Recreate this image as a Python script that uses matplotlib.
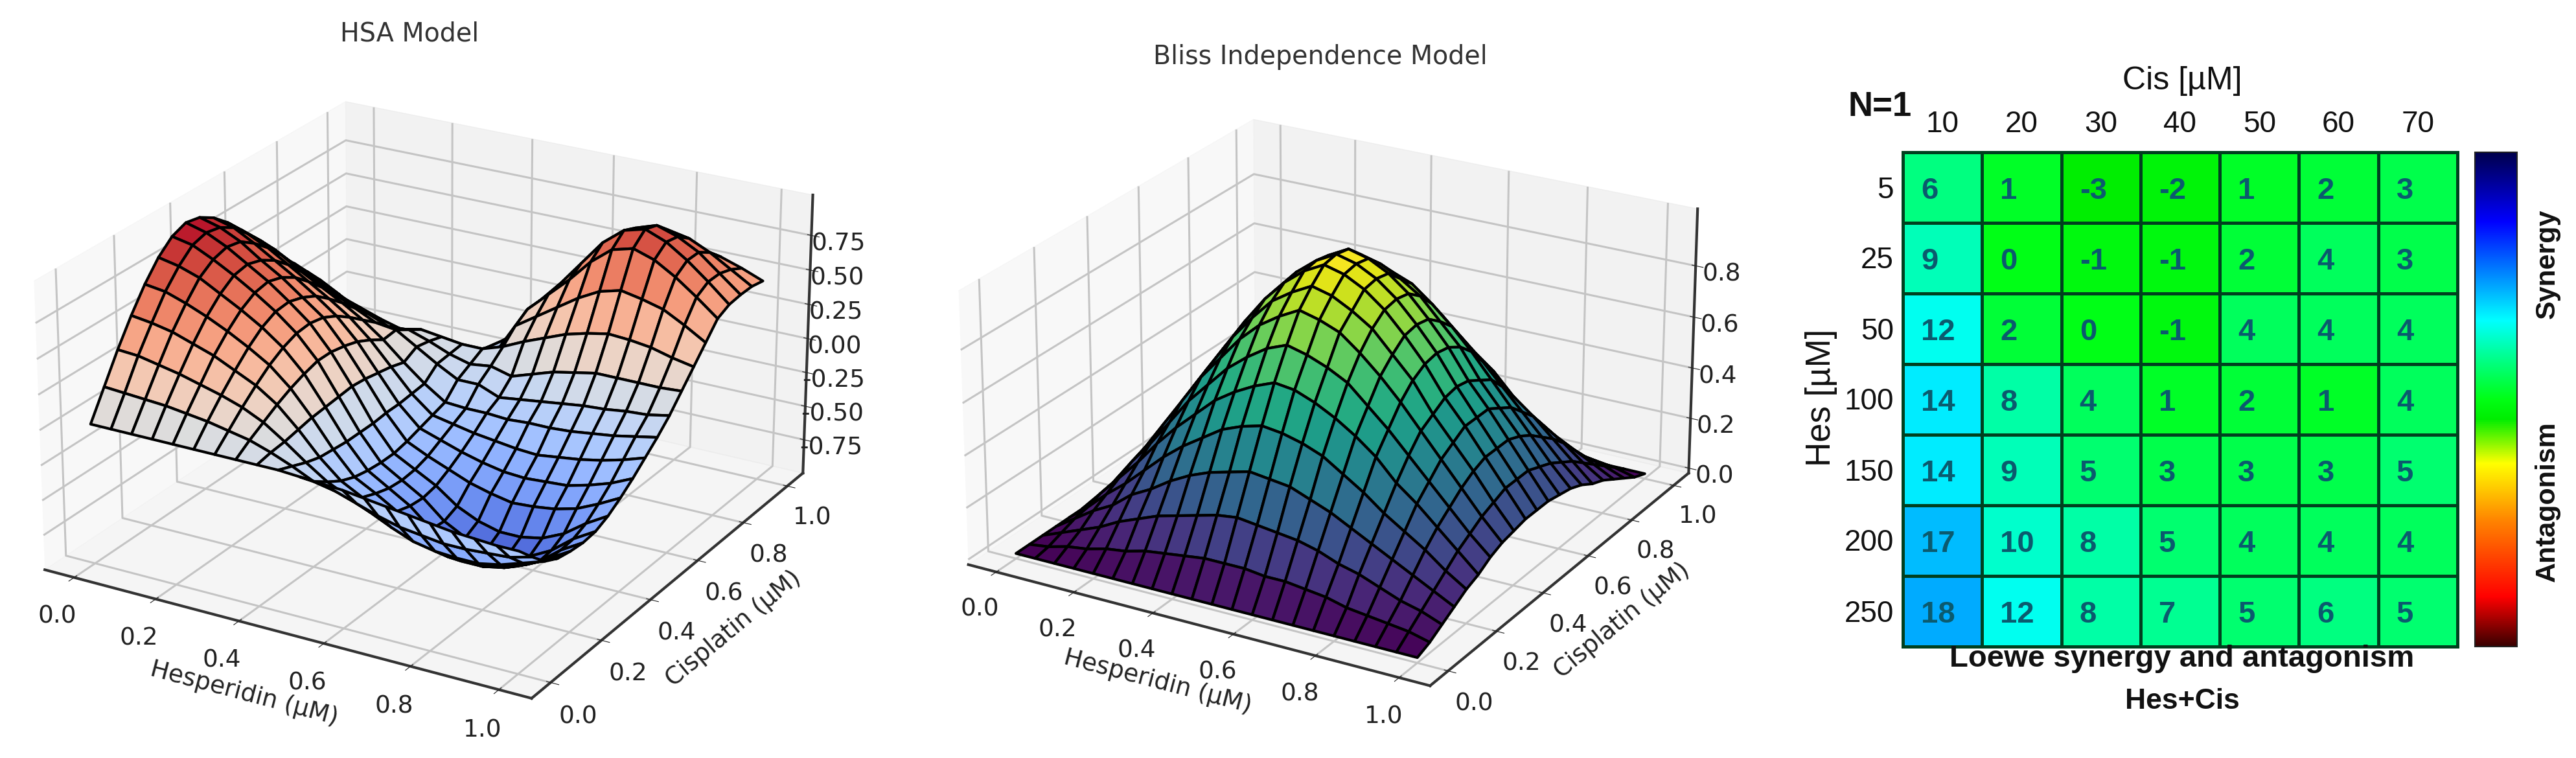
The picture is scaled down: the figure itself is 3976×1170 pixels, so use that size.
import matplotlib
matplotlib.use("Agg")
import matplotlib.pyplot as plt
import numpy as np
from matplotlib.colors import LinearSegmentedColormap

W, H = 3976, 1170
grid_axis = [0,.05,.10,.15,.20,.25,.30,.35,.40,.45,.50,.55,.60,.65,.70,.75,.80,.85,.90,.95,1.0]

hsa_z = [
[0,0,0,0,0,0,0,0,0,0,-.01,-.02,-.03,-.05,-.07,-.09,-.11,-.13,-.14,-.15,-.15],
[.20,.19,.18,.17,.15,.13,.10,.07,.02,-.04,-.11,-.14,-.19,-.24,-.28,-.30,-.32,-.32,-.31,-.30,-.26],
[.40,.39,.36,.33,.29,.25,.20,.13,.03,-.08,-.18,-.25,-.32,-.39,-.45,-.48,-.49,-.49,-.46,-.41,-.36],
[.58,.56,.53,.48,.43,.36,.29,.19,.05,-.11,-.24,-.32,-.40,-.47,-.54,-.59,-.59,-.58,-.54,-.47,-.41],
[.74,.72,.67,.61,.54,.46,.37,.24,.07,-.12,-.28,-.36,-.45,-.55,-.62,-.69,-.69,-.66,-.60,-.52,-.43],
[.87,.84,.79,.71,.63,.54,.43,.28,.08,-.13,-.30,-.39,-.48,-.61,-.70,-.76,-.76,-.72,-.65,-.53,-.44],
[.96,.93,.86,.78,.69,.59,.47,.31,.09,-.13,-.31,-.40,-.49,-.62,-.70,-.75,-.75,-.72,-.64,-.52,-.43],
[1.00,.96,.89,.80,.71,.60,.48,.31,.10,-.13,-.31,-.39,-.47,-.58,-.65,-.69,-.69,-.66,-.59,-.48,-.39],
[.98,.94,.87,.77,.68,.57,.46,.29,.09,-.12,-.29,-.36,-.42,-.48,-.52,-.55,-.54,-.52,-.48,-.41,-.33],
[.92,.88,.80,.71,.62,.52,.41,.26,.07,-.12,-.26,-.31,-.36,-.40,-.43,-.44,-.43,-.42,-.38,-.33,-.26],
[.83,.78,.71,.62,.53,.44,.34,.21,.05,-.11,-.23,-.26,-.29,-.31,-.33,-.34,-.32,-.30,-.27,-.23,-.18],
[.72,.67,.60,.51,.43,.35,.26,.15,.02,-.10,-.20,-.21,-.21,-.22,-.21,-.21,-.20,-.18,-.16,-.13,-.10],
[.60,.55,.47,.40,.32,.25,.18,.16,.07,-.02,-.10,-.10,-.16,-.14,-.12,-.10,-.08,-.07,-.05,-.04,-.01],
[.47,.41,.34,.27,.21,.15,.09,.10,.05,-.01,-.05,-.03,-.07,-.02,.03,.06,.09,.09,.09,.09,.10],
[.35,.29,.22,.15,.10,.05,.01,.04,.02,0,0,.05,.12,.18,.24,.28,.31,.30,.28,.24,.21],
[.24,.17,.10,.03,-.03,-.08,-.12,-.14,-.15,-.14,-.10,.14,.24,.34,.44,.52,.56,.53,.49,.41,.32],
[.12,.05,-.04,-.12,-.20,-.25,-.29,-.28,-.22,-.15,-.05,.20,.34,.48,.64,.76,.80,.75,.66,.55,.43],
[0,-.08,-.17,-.25,-.32,-.37,-.38,-.35,-.28,-.18,-.05,.20,.36,.54,.72,.84,.88,.82,.72,.60,.47],
[-.15,-.24,-.33,-.40,-.46,-.50,-.49,-.44,-.36,-.24,-.10,.14,.32,.50,.68,.80,.85,.80,.72,.60,.48],
[-.32,-.42,-.50,-.56,-.61,-.62,-.60,-.52,-.44,-.31,-.15,.08,.25,.42,.60,.72,.76,.73,.66,.57,.48],
[-.48,-.58,-.66,-.70,-.72,-.72,-.66,-.58,-.50,-.38,-.22,-.04,.12,.28,.43,.54,.60,.60,.57,.52,.46],
]

bliss_z = [
[0]*21,
[0,.01,.03,.04,.06,.07,.09,.10,.11,.12,.12,.12,.11,.11,.10,.09,.07,.06,.05,.04,.02],
[0,.03,.06,.09,.13,.16,.19,.21,.23,.25,.26,.25,.24,.23,.21,.18,.16,.13,.10,.08,.05],
[0,.05,.10,.14,.20,.24,.29,.33,.36,.38,.40,.39,.38,.35,.32,.28,.24,.20,.16,.12,.08],
[0,.06,.13,.19,.26,.33,.39,.44,.49,.52,.54,.53,.51,.48,.43,.38,.32,.27,.22,.16,.11],
[0,.08,.16,.24,.33,.41,.48,.55,.60,.64,.67,.66,.63,.59,.54,.48,.40,.34,.27,.20,.13],
[0,.09,.19,.28,.38,.48,.56,.64,.70,.75,.78,.76,.73,.69,.62,.55,.47,.39,.31,.23,.16],
[0,.11,.21,.32,.43,.54,.63,.72,.79,.84,.88,.86,.83,.77,.70,.62,.53,.44,.35,.26,.18],
[0,.11,.23,.34,.46,.57,.68,.77,.85,.90,.94,.92,.88,.83,.75,.67,.56,.47,.38,.28,.19],
[0,.12,.24,.36,.49,.60,.71,.81,.89,.95,.99,.97,.93,.87,.79,.70,.59,.50,.40,.30,.20],
[0,.12,.24,.36,.49,.61,.72,.82,.90,.96,1.0,.98,.94,.88,.80,.71,.60,.50,.40,.30,.20],
[0,.12,.24,.36,.49,.60,.71,.81,.89,.95,.99,.97,.93,.87,.79,.70,.59,.50,.40,.30,.20],
[0,.11,.23,.34,.46,.57,.68,.77,.85,.90,.94,.92,.88,.83,.75,.67,.56,.47,.38,.28,.19],
[0,.11,.21,.32,.43,.54,.63,.72,.79,.84,.88,.86,.83,.77,.70,.62,.53,.44,.35,.26,.18],
[0,.09,.19,.28,.38,.48,.56,.64,.70,.75,.78,.76,.73,.69,.62,.55,.47,.39,.31,.23,.16],
[0,.08,.16,.24,.33,.41,.48,.55,.60,.64,.67,.66,.63,.59,.54,.48,.40,.34,.27,.20,.13],
[0,.06,.13,.19,.26,.33,.39,.44,.49,.52,.54,.53,.51,.48,.43,.38,.32,.27,.22,.16,.11],
[0,.05,.10,.14,.20,.24,.29,.33,.36,.38,.40,.39,.38,.35,.32,.28,.24,.20,.16,.12,.08],
[0,.03,.06,.09,.13,.16,.19,.21,.23,.25,.26,.25,.24,.23,.21,.18,.16,.13,.10,.08,.05],
[0,.01,.03,.04,.06,.07,.09,.10,.11,.12,.12,.12,.11,.11,.10,.09,.07,.06,.05,.04,.02],
[0]*21,
]

tick_vals = [0.0,0.2,0.4,0.6,0.8,1.0]
hsa_zticks = [-.75,-.50,-.25,0,.25,.50,.75]
bliss_zticks = [0,.2,.4,.6,.8]

cis_labels = ["10","20","30","40","50","60","70"]
hes_labels = ["5","25","50","100","150","200","250"]
loewe = [
[6,1,-3,-2,1,2,3],
[9,0,-1,-1,2,4,3],
[12,2,0,-1,4,4,4],
[14,8,4,1,2,1,4],
[14,9,5,3,3,3,5],
[17,10,8,5,4,4,4],
[18,12,8,7,5,6,5],
]

def fx(px): return px / W
def fy(py): return 1 - py / H

fig = plt.figure(figsize=(W/100, H/100), dpi=100, facecolor="white")

def txt(px, py, s, **kw):
    fig.text(fx(px), fy(py), s, ha=kw.pop("ha", "center"), va=kw.pop("va", "center"), **kw)

def surf(cx, cy, S, Z, cmap, vr, zl, zticks, zfmt, aspect, zoom, title, tx, ty):
    ax = fig.add_axes([fx(cx - S/2), fy(cy + S/2), S/W, S/H], projection="3d")
    ax.patch.set_alpha(0)
    X, Y = np.meshgrid(grid_axis, grid_axis)
    ax.plot_surface(X, Y, np.array(Z, float), cmap=cmap, vmin=vr[0], vmax=vr[1], edgecolor="black",
                    linewidth=3.0, rstride=1, cstride=1, antialiased=True)
    ax.view_init(elev=23.5, azim=-60)
    ax.set_box_aspect(aspect, zoom=zoom)
    ax.set_zlim(*zl)
    ax.set_xticks(tick_vals); ax.set_yticks(tick_vals); ax.set_zticks(zticks)
    ax.set_xticklabels([f"{v:.1f}" for v in tick_vals])
    ax.set_yticklabels([f"{v:.1f}" for v in tick_vals])
    ax.set_zticklabels([zfmt.format(v) for v in zticks])
    ax.tick_params(labelsize=27, colors="#222222", pad=18, width=3, length=8)
    ax.tick_params(axis="z", pad=10)
    ax.set_xlabel("Hesperidin (µM)", fontsize=27, labelpad=36, color="#222222")
    ax.set_ylabel("Cisplatin (µM)", fontsize=27, labelpad=38, color="#222222")
    for a in (ax.xaxis, ax.yaxis, ax.zaxis):
        a.line.set_linewidth(3); a.line.set_color("#333333")
        a._axinfo["grid"]["linewidth"] = 2.2
        a._axinfo["grid"]["color"] = "#c4c4c4"
    txt(tx, ty, title, fontsize=28.5, color="#333333")
    return ax

surf(650, 605, 1300, hsa_z, "coolwarm", (-.85, 1), (-1.0, 1.04), hsa_zticks, "{:.2f}", (3.92, 4.15, 2.2), 0.99,
     "HSA Model", 632, 52)
surf(2045, 612, 1300, bliss_z, "viridis", (0, 1), (-.02, 1.02), bliss_zticks, "{:.1f}", (3.92, 4.15, 2.2), 0.94,
     "Bliss Independence Model", 2038, 88)

# heat map
L, R, T, B = 2937, 3793, 235, 998
rainbow = LinearSegmentedColormap.from_list("loewe", [
    (0.00, (0.22, 0, 0)), (0.10, (1, 0, 0)), (0.25, (1, 0.5, 0)), (0.37, (1, 1, 0)),
    (0.46, (0, 0.93, 0)), (0.50, (0, 1, 0.08)), (0.575, (0, 1, 0.5)), (0.66, (0, 1, 1)),
    (0.86, (0, 0, 1)), (1.00, (0, 0, 0.3))], N=512)
ax = fig.add_axes([fx(L), fy(B), (R-L)/W, (B-T)/H])
mesh = ax.pcolormesh(np.arange(8), np.arange(8), np.array(loewe), cmap=rainbow, vmin=-40, vmax=40,
                     edgecolors="#00401f", linewidth=3.6)
ax.set_xlim(0, 7); ax.set_ylim(7, 0)
ax.set_xticks([]); ax.set_yticks([])
for s in ax.spines.values():
    s.set_color("#00401f"); s.set_linewidth(3.6)
FONT = "Liberation Sans"
for r, row in enumerate(loewe):
    for c, v in enumerate(row):
        ax.text(c + 0.23, r + 0.55, str(v), ha="left", va="center", fontsize=34, family=FONT,
                color="#0b5a6e", fontweight="bold")
cw = (R-L)/7; ch = (B-T)/7
for i, s in enumerate(cis_labels):
    txt(L + cw*(i+0.5), 192, s, fontsize=33, family=FONT, color="#111111")
for i, s in enumerate(hes_labels):
    txt(2923, T + ch*(i+0.5) + 4, s, ha="right", fontsize=33, family=FONT, color="#111111")
txt(3368, 125, "Cis [µM]", fontsize=36, family=FONT, color="#111111")
txt(2902, 165, "N=1", fontsize=38, family=FONT, color="#111111", fontweight="bold")
txt(2811, 614, "Hes [µM]", fontsize=38, family=FONT, rotation=90, color="#111111")
txt(3368, 1017, "Loewe synergy and antagonism", fontsize=34, family=FONT, fontweight="bold", color="#111111")
txt(3368, 1082, "Hes+Cis", fontsize=32, family=FONT, fontweight="bold", color="#111111")
cax = fig.add_axes([fx(3820), fy(B), 65/W, (B-T)/H])
cb = fig.colorbar(mesh, cax=cax, ticks=[])
cb.outline.set_linewidth(1.5); cb.outline.set_edgecolor("#222222")
txt(3932, 407, "Synergy", fontsize=31, family=FONT, fontweight="bold", rotation=90, color="#111111")
txt(3932, 774, "Antagonism", fontsize=31, family=FONT, fontweight="bold", rotation=90, color="#111111")

fig.savefig("out.png", dpi=100)
